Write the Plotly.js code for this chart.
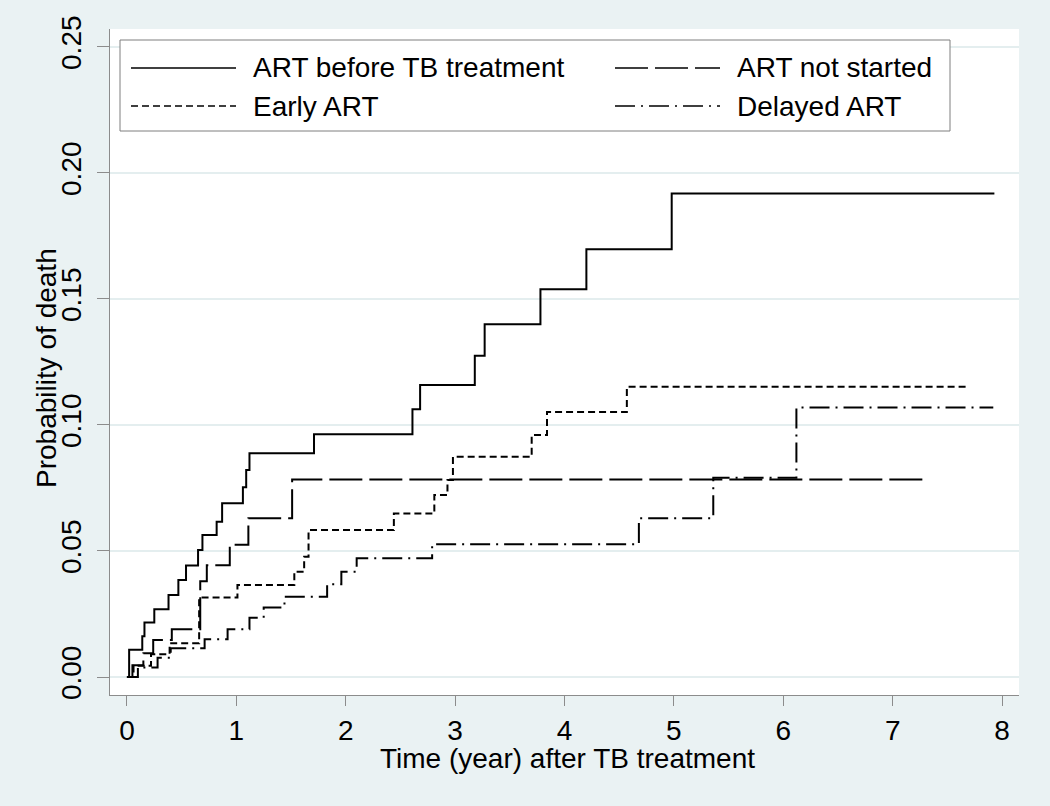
<!DOCTYPE html>
<html>
<head>
<meta charset="utf-8">
<script src="https://cdn.plot.ly/plotly-3.0.1.min.js"></script>
<style>html,body{margin:0;padding:0;background:#eaf2f3;}#chart{width:1050px;height:806px;}</style>
</head>
<body>
<div id="chart"></div>
<script>
// ---- data (years after TB treatment, cumulative probability of death) ----
const seriesNames = ["ART before TB treatment", "ART not started", "Early ART", "Delayed ART"];

const timeBefore = [0, 0.02, 0.14, 0.16, 0.25, 0.38, 0.47, 0.54, 0.65, 0.69, 0.82, 0.87, 1.06, 1.09, 1.12, 1.71, 2.61, 2.68, 3.18, 3.27, 3.78, 4.20, 4.98, 7.93];
const probBefore = [0, 0.0108, 0.0162, 0.0216, 0.0269, 0.0325, 0.0385, 0.0442, 0.0504, 0.0563, 0.0616, 0.0689, 0.0753, 0.0821, 0.0888, 0.0963, 0.1062, 0.1159, 0.1275, 0.1400, 0.1538, 0.1697, 0.1918, 0.1918];

const timeNotStarted = [0, 0.05, 0.15, 0.24, 0.41, 0.67, 0.73, 0.94, 1.11, 1.51, 7.31];
const probNotStarted = [0, 0.0047, 0.0094, 0.0147, 0.0189, 0.0380, 0.0443, 0.0525, 0.0630, 0.0784, 0.0784];

const timeEarly = [0, 0.06, 0.22, 0.39, 0.66, 1.01, 1.53, 1.62, 1.66, 2.44, 2.81, 2.93, 2.98, 3.70, 3.84, 4.57, 7.69];
const probEarly = [0, 0.0045, 0.0090, 0.0134, 0.0315, 0.0365, 0.0418, 0.0477, 0.0583, 0.0649, 0.0722, 0.0782, 0.0874, 0.0960, 0.1051, 0.1152, 0.1152];

const timeDelayed = [0, 0.10, 0.28, 0.40, 0.71, 0.92, 1.12, 1.25, 1.44, 1.83, 1.96, 2.10, 2.79, 4.68, 5.36, 6.12, 7.92];
const probDelayed = [0, 0.0038, 0.0076, 0.0114, 0.0150, 0.0189, 0.0235, 0.0276, 0.0318, 0.0368, 0.0418, 0.0471, 0.0527, 0.0630, 0.0791, 0.1069, 0.1069];

const xTicks = [0, 1, 2, 3, 4, 5, 6, 7, 8];
const yTicks = [0, 0.05, 0.10, 0.15, 0.20, 0.25];
const yTickText = ["0.00", "0.05", "0.10", "0.15", "0.20", "0.25"];
const xTitle = "Time (year) after TB treatment";
const yTitle = "Probability of death";

// ---- styles ----
const dashes = ["solid", "33px,7px", "7px,4px", "20px,6px,2px,6px"];
const FONT = "Liberation Sans, Arial, sans-serif";
const FS = 28;

const xs = [timeBefore, timeNotStarted, timeEarly, timeDelayed];
const ys = [probBefore, probNotStarted, probEarly, probDelayed];

const traces = seriesNames.map((n, i) => ({
  type: "scatter", mode: "lines", name: n,
  x: xs[i], y: ys[i],
  line: {shape: "hv", color: "#000000", width: 2, dash: dashes[i]},
  showlegend: false, hoverinfo: "skip"
}));

// custom legend and axis titles (paper coordinates)
const L = 110, R = 31, T = 29, B = 111, W = 1050, H = 806;
const pw = W - L - R, ph = H - T - B;
const px = v => (v - L) / pw;
const py = v => (H - B - v) / ph;

const shapes = [{
  type: "rect", xref: "paper", yref: "paper",
  x0: px(120), x1: px(950), y0: py(131), y1: py(40),
  line: {color: "#7f7f7f", width: 1}, fillcolor: "#ffffff", layer: "above"
}];
const annotations = [
  {xref: "paper", yref: "paper", x: px(567), y: py(758), xanchor: "center", yanchor: "middle",
   showarrow: false, text: xTitle, font: {family: FONT, size: FS, color: "#000000"}},
  {xref: "paper", yref: "paper", x: px(46), y: py(368), xanchor: "center", yanchor: "middle",
   showarrow: false, textangle: -90, text: yTitle, font: {family: FONT, size: FS, color: "#000000"}}
];
const legendPos = [
  {lx0: 131, lx1: 236, tx: 251, y: 68},
  {lx0: 615, lx1: 720, tx: 735, y: 68},
  {lx0: 131, lx1: 236, tx: 251, y: 106},
  {lx0: 615, lx1: 720, tx: 735, y: 106}
];
seriesNames.forEach((n, i) => {
  const p = legendPos[i];
  shapes.push({type: "line", xref: "paper", yref: "paper",
    x0: px(p.lx0), x1: px(p.lx1), y0: py(p.y), y1: py(p.y),
    line: {color: "#000000", width: 1.5, dash: dashes[i]}, layer: "above"});
  annotations.push({xref: "paper", yref: "paper", x: px(p.tx), y: py(p.y),
    xanchor: "left", yanchor: "middle", showarrow: false, text: n,
    font: {family: FONT, size: FS, color: "#000000"}});
});

const layout = {
  width: W, height: H,
  margin: {l: L, r: R, t: T, b: B, pad: 0},
  paper_bgcolor: "#eaf2f3", plot_bgcolor: "#ffffff",
  font: {family: FONT, color: "#000000"},
  showlegend: false,
  xaxis: {
    range: [-0.155, 8.155], tickvals: xTicks, ticks: "outside", ticklen: 10,
    tickcolor: "#8c8c8c", tickwidth: 1, showline: true, linecolor: "#8c8c8c", linewidth: 1,
    showgrid: false, zeroline: false, ticklabelstandoff: 0,
    tickfont: {family: FONT, size: FS, color: "#000000"}
  },
  yaxis: {
    range: [-0.00714, 0.2571], tickvals: yTicks, ticktext: yTickText, tickangle: -90,
    ticks: "outside", ticklen: 12, tickcolor: "#8c8c8c", tickwidth: 1,
    showline: true, linecolor: "#8c8c8c", linewidth: 1,
    showgrid: true, gridcolor: "#e4eeef", gridwidth: 2, zeroline: false, ticklabelstandoff: 5,
    tickfont: {family: FONT, size: FS, color: "#000000"}
  },
  shapes: shapes,
  annotations: annotations
};

Plotly.newPlot("chart", traces, layout, {displayModeBar: false, staticPlot: true});
</script>
</body>
</html>
